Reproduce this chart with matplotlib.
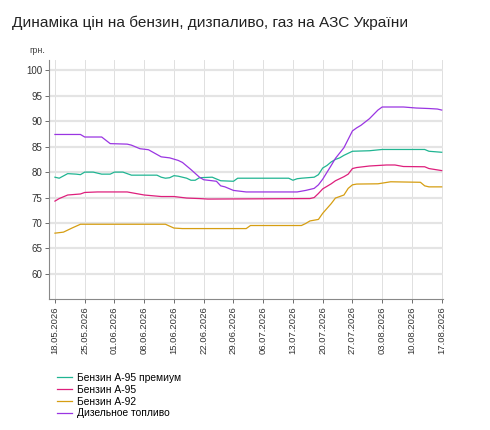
import matplotlib
matplotlib.use("Agg")
import matplotlib.pyplot as plt
import matplotlib.dates as mdates
from datetime import datetime, timedelta

plt.rcParams['font.family'] = ['Liberation Sans', 'DejaVu Sans']

start = datetime(2026, 5, 18)

# (day offset from 18.05.2026, price, UAH)
premium_days = [0, 1, 3, 5, 6, 7, 9, 10, 11, 13, 14, 16, 17, 18, 24, 25, 26, 27, 28, 29, 31, 32, 33, 34, 37, 39, 42, 43, 55, 56, 57, 58, 61, 62, 63, 64, 65, 66, 67, 68, 70, 74, 77, 87, 88, 91]
premium_vals = [79.0, 78.8, 79.7, 79.6, 79.5, 80.0, 80.0, 79.8, 79.6, 79.6, 80.0, 80.0, 79.7, 79.4, 79.4, 79.0, 78.8, 78.9, 79.3, 79.2, 78.8, 78.4, 78.4, 78.9, 79.0, 78.3, 78.2, 78.8, 78.8, 78.4, 78.7, 78.8, 79.0, 79.5, 80.8, 81.3, 82.0, 82.5, 82.8, 83.3, 84.1, 84.2, 84.45, 84.45, 84.1, 83.9]

a95_days = [0, 1, 3, 6, 7, 10, 17, 19, 21, 25, 28, 31, 34, 36, 60, 61, 62, 63, 65, 66, 67, 68, 69, 70, 71, 74, 78, 80, 82, 87, 88, 91]
a95_vals = [74.3, 74.8, 75.5, 75.7, 76.0, 76.1, 76.1, 75.8, 75.5, 75.2, 75.2, 74.9, 74.8, 74.7, 74.8, 75.0, 75.8, 76.7, 77.7, 78.3, 78.7, 79.1, 79.6, 80.7, 80.9, 81.2, 81.4, 81.4, 81.1, 81.05, 80.7, 80.3]

a92_days = [0, 2, 3, 4, 6, 26, 28, 30, 45, 46, 58, 59, 60, 62, 63, 65, 66, 67, 68, 69, 70, 71, 76, 79, 86, 87, 88, 91]
a92_vals = [68.0, 68.2, 68.6, 69.0, 69.75, 69.75, 69.0, 68.9, 68.9, 69.5, 69.5, 69.9, 70.4, 70.7, 71.9, 73.8, 74.9, 75.2, 75.5, 76.8, 77.5, 77.65, 77.7, 78.1, 78.0, 77.3, 77.1, 77.1]

diesel_days = [0, 6, 7, 11, 13, 17, 18, 20, 22, 25, 27, 29, 30, 32, 34, 35, 38, 39, 40, 42, 44, 45, 57, 59, 61, 62, 63, 65, 66, 68, 70, 71, 72, 74, 76, 77, 82, 85, 88, 90, 91]
diesel_vals = [87.4, 87.4, 86.9, 86.9, 85.6, 85.5, 85.3, 84.6, 84.4, 83.0, 82.8, 82.3, 81.9, 80.5, 79.0, 78.5, 78.2, 77.3, 77.1, 76.4, 76.2, 76.1, 76.1, 76.4, 76.8, 77.5, 78.6, 81.3, 82.7, 84.8, 88.1, 88.7, 89.2, 90.5, 92.2, 92.8, 92.8, 92.6, 92.5, 92.4, 92.2]

series_names = ["Бензин А-95 премиум", "Бензин А-95", "Бензин А-92", "Дизельное топливо"]
colors = ["#20b592", "#de1f7c", "#d69e12", "#9a35e2"]

tick_days = list(range(0, 92, 7))
y_ticks = [60, 65, 70, 75, 80, 85, 90, 95, 100]

def to_dates(days):
    return [start + timedelta(days=d) for d in days]

fig = plt.figure(figsize=(4.9, 4.3), dpi=100)
ax = fig.add_axes([0.1, 0.304, 0.804, 0.556])

data = [(premium_days, premium_vals), (a95_days, a95_vals), (a92_days, a92_vals), (diesel_days, diesel_vals)]
handles = []
for (d, v), name, c in zip(data, series_names, colors):
    h, = ax.plot(to_dates(d), v, color=c, lw=0.9, label=name)
    handles.append(h)

ax.set_ylim(55, 102)
ax.set_xlim(start - timedelta(days=1.4), start + timedelta(days=91.3))
ax.set_yticks(y_ticks)
ax.set_xticks(to_dates(tick_days))
ax.xaxis.set_major_formatter(mdates.DateFormatter('%d.%m.%Y'))
for lab in ax.get_xticklabels():
    lab.set_rotation(90)
ax.tick_params(axis='x', labelsize=6.8, colors='#555555', length=3, width=0.6, pad=2)
ax.tick_params(axis='y', labelsize=7, colors='#555555', length=3, width=0.6, pad=2)
for lab in ax.get_xticklabels() + ax.get_yticklabels():
    lab.set_color('#333333')

ax.grid(axis='y', color='#e4e4e4', lw=1.6)
ax.grid(axis='x', color='#e0e0e0', lw=0.7)
ax.set_axisbelow(True)
for s in ['top', 'right']:
    ax.spines[s].set_visible(False)
for s in ['left', 'bottom']:
    ax.spines[s].set_color('#888888')
    ax.spines[s].set_linewidth(0.8)

fig.text(0.025, 0.948, "Динаміка цін на бензин, дизпаливо, газ на АЗС України", fontsize=11.1, color='#222222', va='center', ha='left')
fig.text(0.093, 0.882, "грн.", fontsize=6.5, color='#444444', va='center', ha='right')

fig.legend(handles=handles, loc='upper left', bbox_to_anchor=(0.116, 0.133), bbox_transform=fig.transFigure,
           frameon=False, fontsize=7.4, handlelength=1.5, handletextpad=0.5, labelspacing=0.18, borderaxespad=0,
           borderpad=0)

fig.savefig("out.png", dpi=100)
